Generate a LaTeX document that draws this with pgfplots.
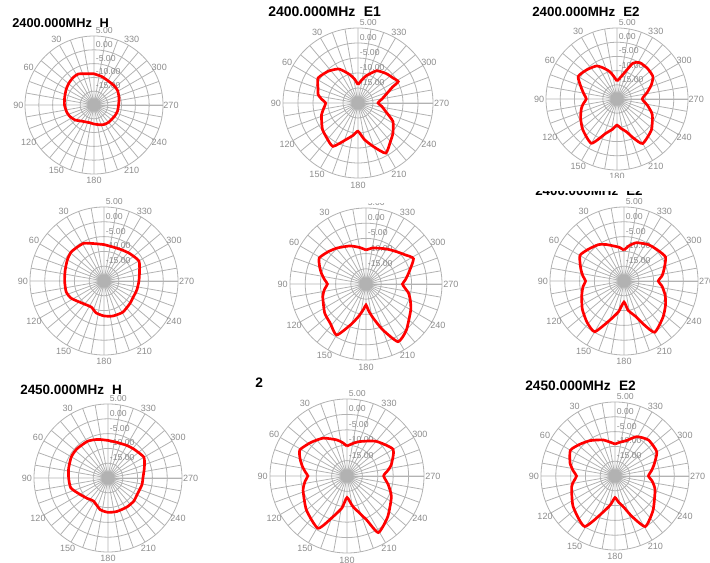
\documentclass[border=0pt]{standalone}
\usepackage{fontspec}
\setmainfont{Liberation Sans}
\usepackage{pgfplots}
\usepackage{pgfplotstable}
\pgfplotsset{compat=1.18}
\usepgfplotslibrary{polar}

\definecolor{gridc}{RGB}{178,178,178}
\definecolor{labc}{RGB}{140,140,140}

% angle (deg, counter-clockwise from top)  gain (dB)
\pgfplotstableread{
deg db
0 -8.7
15 -8.3
27 -7.4
37 -7.5
48 -7.9
60 -8.4
75 -9.0
90 -9.3
105 -9.8
115 -10.3
128 -11.2
142 -12.6
155 -13.2
167 -13.4
180 -13.1
195 -12.6
206 -12.1
220 -11.8
242 -11.5
255 -11.2
270 -11.1
285 -10.6
301 -10.0
315 -9.9
333 -9.8
345 -9.3
360 -8.7
}\hA
\pgfplotstableread{
deg db
0 -13.9
8 -12.0
16 -10.2
23 -8.6
30 -6.9
43 -5.5
58 -4.3
70 -5.8
78 -6.4
84 -7.8
90 -9.2
100 -8.3
108 -7.2
118 -6.3
127 -5.2
138 -4.4
150 -3.3
162 -7.2
172 -9.2
180 -10.6
190 -7.6
200 -4.4
209 -0.9
220 -3.2
229 -4.6
242 -6.8
252 -10.1
262 -12.0
270 -13.3
280 -11.8
290 -9.3
295 -7.2
298 -4.8
305 -5.6
316 -6.4
330 -7.6
343 -10.5
352 -12.5
360 -13.9
}\eA
\pgfplotstableread{
deg db
0 -13.7
8 -12.0
15 -10.0
24 -8.0
32 -6.3
46 -5.2
60 -4.2
73 -6.9
82 -8.3
90 -9.2
98 -8.0
105 -7.0
118 -5.5
132 -3.8
150 -2.0
162 -7.3
172 -9.3
180 -10.8
188 -9.5
196 -8.0
203 -5.0
210 -1.9
228 -3.7
246 -6.4
258 -9.0
270 -11.1
282 -9.2
292 -7.0
302 -5.1
315 -4.8
328 -4.9
336 -6.2
345 -10.7
352 -12.5
360 -13.7
}\fA
\pgfplotstableread{
deg db
0 -7.7
14 -7.0
29 -5.5
48 -5.2
60 -5.7
75 -6.4
90 -6.7
106 -6.7
118 -7.5
137 -9.6
154 -10.2
166 -8.9
180 -8.2
194 -7.8
211 -7.7
229 -8.4
240 -8.7
255 -8.5
270 -8.2
286 -7.5
300 -6.4
317 -7.3
331 -7.9
348 -8.1
360 -7.7
}\hB
\pgfplotstableread{
deg db
0 -8.8
10 -7.8
23 -6.4
39 -4.8
50 -3.6
61 -2.4
70 -3.8
77 -5.0
84 -6.3
90 -7.3
97 -6.3
106 -5.2
125 -3.4
138 -2.5
150 -0.6
159 -5.5
167 -9.0
175 -11.8
180 -13.1
186 -11.0
192 -8.5
200 -4.0
209 1.7
221 0.2
240 -3.0
250 -4.5
258 -5.7
265 -7.3
270 -8.0
276 -7.0
284 -5.6
298 -2.3
307 -4.0
316 -5.3
328 -6.5
339 -7.4
350 -8.0
360 -8.8
}\eB
\pgfplotstableread{
deg db
0 -9.6
8 -8.5
17 -7.6
26 -6.3
35 -5.0
48 -3.9
60 -2.8
74 -4.8
83 -6.0
90 -7.0
98 -6.0
109 -4.9
124 -3.0
138 -1.3
150 -0.2
160 -5.9
170 -9.5
180 -12.9
188 -10.0
199 -7.1
205 -3.5
211 0.2
227 -2.0
240 -3.8
251 -5.3
262 -7.0
270 -8.4
278 -7.0
287 -5.8
300 -3.8
313 -4.6
326 -5.2
342 -6.4
352 -8.0
360 -9.6
}\fB
\pgfplotstableread{
deg db
0 -7.3
15 -6.5
29 -5.8
47 -5.6
60 -5.7
76 -6.3
90 -6.7
105 -7.0
121 -9.1
135 -10.2
148 -10.8
166 -9.0
180 -8.4
195 -8.3
213 -8.3
228 -8.3
242 -8.7
259 -8.3
270 -8.2
285 -7.3
300 -6.0
318 -6.9
330 -7.3
346 -7.6
360 -7.3
}\hC
\pgfplotstableread{
deg db
0 -10.3
8 -9.0
16 -7.8
32 -5.5
47 -4.0
61 -2.5
70 -3.8
78 -5.2
85 -6.5
90 -7.3
97 -6.3
108 -5.0
130 -2.8
151 -0.6
161 -6.0
171 -9.5
180 -13.0
191 -9.9
204 -4.4
209 1.0
225 -1.3
245 -4.1
258 -6.3
270 -8.1
277 -6.8
284 -5.2
300 -2.7
320 -5.3
340 -8.1
352 -9.5
360 -10.3
}\eC
\pgfplotstableread{
deg db
0 -9.2
18 -7.2
35 -5.4
48 -4.0
60 -2.6
74 -4.2
83 -5.8
90 -7.0
97 -6.0
104 -4.9
126 -2.5
149 -0.1
164 -8.0
172 -10.5
180 -12.7
188 -11.0
195 -9.3
203 -5.0
211 -0.1
228 -2.7
251 -5.7
262 -7.3
270 -8.7
278 -7.6
286 -6.3
300 -3.7
317 -3.4
331 -4.8
342 -7.4
352 -8.5
360 -9.2
}\fC

\pgfplotsset{
  antenna/.style={
    scale only axis, clip=false, anchor=center,
    ymin=0, ymax=25,
    xtick={0,10,...,350}, ytick={5,10,15,20},
    xticklabels={}, yticklabels={},
    major tick length=0pt,
    xmajorgrids, ymajorgrids,
    major grid style={gridc, line width=0.6pt},
    axis line style={gridc, line width=0.6pt},
  },
  pattern/.style={red, line width=2pt, smooth, tension=0.35, no markers,
    x filter/.expression={x+90}, y filter/.expression={y+20}},
}
\tikzset{
  alab/.style={text=labc, font=\fontsize{6.8}{8}\selectfont, inner sep=0pt},
  rlab/.style={alab, font=\fontsize{6.5}{8}\selectfont, anchor=base west, xshift=1.2pt, yshift=1.8pt},
}

% labels; angles in axis cs are the chart's angle + 90
\newcommand\decor{%
  \node[alab] at (axis cs:120,27.3) {30};
  \node[alab] at (axis cs:150,27.3) {60};
  \node[alab] at (axis cs:180,27.4) {90};
  \node[alab] at (axis cs:210,27.3) {120};
  \node[alab] at (axis cs:240,27.3) {150};
  \node[alab] at (axis cs:270,27.3) {180};
  \node[alab] at (axis cs:300,27.3) {210};
  \node[alab] at (axis cs:330,27.3) {240};
  \node[alab] at (axis cs:0,27.9) {270};
  \node[alab] at (axis cs:30,27.3) {300};
  \node[alab] at (axis cs:60,27.3) {330};
  \node[rlab] at (axis cs:90,25) {5.00};
  \node[rlab] at (axis cs:90,20) {0.00};
  \node[rlab] at (axis cs:90,15) {-5.00};
  \node[rlab] at (axis cs:90,10) {-10.00};
  \node[rlab] at (axis cs:90,5) {-15.00};
}

% #1,#2 centre in px (from top left), #3 diameter in pt, #4 table
\newcommand\antplot[4]{%
  \begin{polaraxis}[antenna, at={({#1*0.75pt},{(563-#2)*0.75pt})}, width=#3, height=#3]
    \decor
    \addplot[pattern] table {#4};
  \end{polaraxis}}

\begin{document}
\begin{tikzpicture}
  \path[use as bounding box] (0,0) rectangle (532.5pt,422.25pt);

  \antplot{94}{105}{103.5pt}{\hA}
  \antplot{358}{103}{112.5pt}{\eA}
  \antplot{617}{99}{106.5pt}{\fA}
  \antplot{104}{281}{111pt}{\hB}
  \antplot{366}{284}{114pt}{\eB}
  \antplot{624}{281}{111pt}{\fB}
  \antplot{108}{478}{111pt}{\hC}
  \antplot{347}{476}{115.5pt}{\eC}
  \antplot{615}{476}{111pt}{\fC}

  % titles
  \begin{scope}[every node/.style={anchor=base west, inner sep=0pt}]
    \node[font=\bfseries\fontsize{9.6}{11}\selectfont] at ({12*0.75pt},{(563-28)*0.75pt}) {2400.000MHz\hspace{0.6em}H};
    \node[font=\bfseries\fontsize{10.5}{12}\selectfont] at ({268*0.75pt},{(563-17)*0.75pt}) {2400.000MHz\hspace{0.6em}E1};
    \node[font=\bfseries\fontsize{10}{12}\selectfont] at ({532*0.75pt},{(563-17)*0.75pt}) {2400.000MHz\hspace{0.6em}E2};
    \node[font=\bfseries\fontsize{10}{12}\selectfont] at ({535*0.75pt},{(563-196)*0.75pt}) {2400.000MHz\hspace{0.6em}E2};
    \node[font=\bfseries\fontsize{10.1}{12}\selectfont] at ({20*0.75pt},{(563-395)*0.75pt}) {2450.000MHz\hspace{0.6em}H};
    \node[font=\bfseries\fontsize{10.3}{12}\selectfont] at ({255*0.75pt},{(563-388)*0.75pt}) {2};
    \node[font=\bfseries\fontsize{10.3}{12}\selectfont] at ({525*0.75pt},{(563-391)*0.75pt}) {2450.000MHz\hspace{0.6em}E2};
  \end{scope}
  % parts of the middle row hidden in the reference
  \fill[white] ({520*0.75pt},{(563-191)*0.75pt}) rectangle ({660*0.75pt},{(563-178)*0.75pt});
  \fill[white] ({340*0.75pt},{(563-203.5)*0.75pt}) rectangle ({400*0.75pt},{(563-190)*0.75pt});
\end{tikzpicture}
\end{document}
